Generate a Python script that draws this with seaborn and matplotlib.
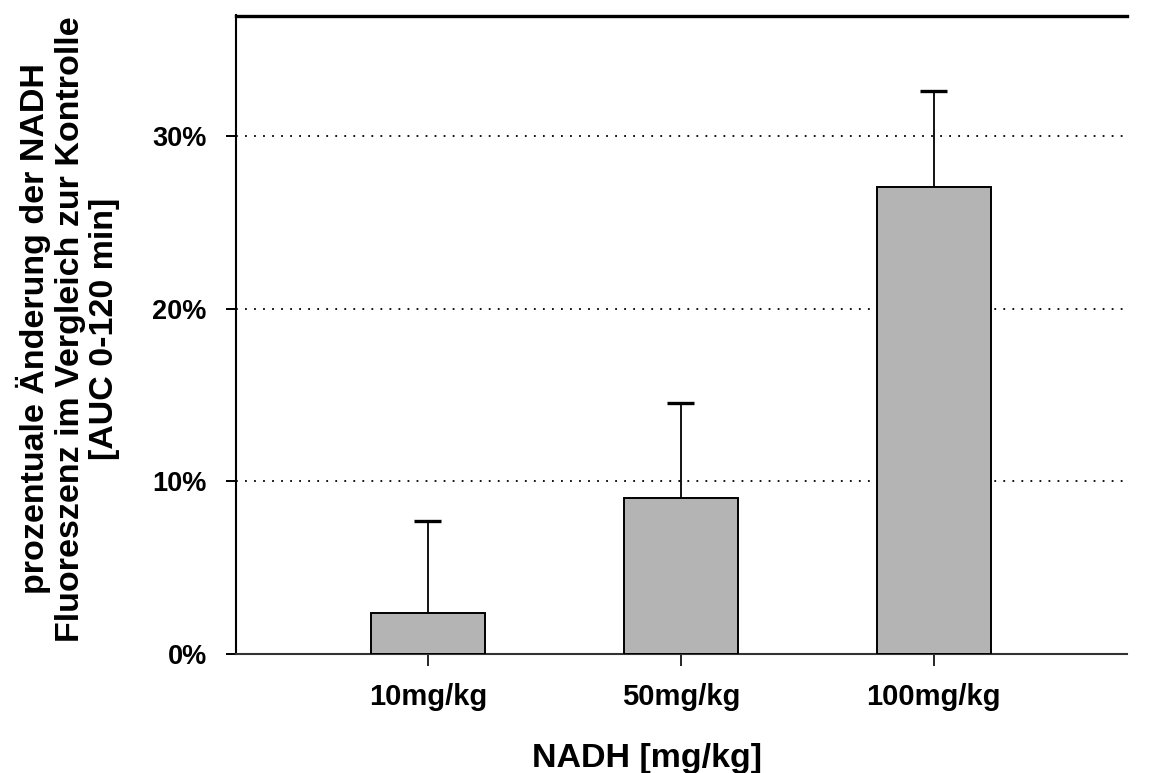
import numpy as np
import pandas as pd
import matplotlib
matplotlib.use("Agg")
import matplotlib.pyplot as plt
from matplotlib.ticker import PercentFormatter
import seaborn as sns

# Dose groups and mean change of NADH fluorescence (AUC 0-120 min), in percent
doses = ["10mg/kg", "50mg/kg", "100mg/kg"]
change_pct = [2.33, 9.0, 27.06]
err_upper = [5.37, 5.54, 5.59]
y_ticks = [0, 10, 20, 30]

sns.set_theme(style="white")
plt.rcParams["font.family"] = ["Liberation Sans", "DejaVu Sans"]
plt.rcParams.update({"text.color": "black", "axes.labelcolor": "black",
                     "xtick.color": "black", "ytick.color": "black"})

df = pd.DataFrame({"dose": doses, "change": change_pct})

fig = plt.figure(figsize=(11.52, 7.73), dpi=100)
ax = fig.add_axes([236 / 1152, 119.5 / 773, 891 / 1152, 638 / 773])

sns.barplot(data=df, x="dose", y="change", color="#b4b4b4", saturation=1,
            edgecolor="black", linewidth=1.4, width=0.45, errorbar=None,
            ax=ax, zorder=3)

# upper-only error bars
xs = np.arange(len(doses))
tops = np.array(change_pct) + np.array(err_upper)
ax.vlines(xs, change_pct, tops, color="black", linewidth=1.3, zorder=4)
ax.hlines(tops, xs - 0.053, xs + 0.053, color="black", linewidth=2.4, zorder=4)

ax.set_xlim(-0.758, 2.764)
ax.set_ylim(0, 37)
ax.set_yticks(y_ticks)
ax.yaxis.set_major_formatter(PercentFormatter(xmax=100, decimals=0))

ax.set_axisbelow(True)
ax.yaxis.grid(True, linestyle=(0, (1, 4)), color="black", linewidth=1.3)
ax.xaxis.grid(False)

for side in ["left", "bottom", "top", "right"]:
    ax.spines[side].set_color("black")
ax.spines["right"].set_visible(False)
ax.spines["top"].set_linewidth(2.4)
ax.spines["left"].set_linewidth(1.5)
ax.spines["bottom"].set_linewidth(1.5)
ax.spines["bottom"].set_color("#333333")

ax.tick_params(axis="y", direction="out", length=7, width=1.4, pad=14,
               labelsize=19.5, colors="black", left=True)
ax.tick_params(axis="x", direction="out", length=8.5, width=1.2, pad=13,
               labelsize=21, colors="black", bottom=True)
for lab in ax.get_xticklabels() + ax.get_yticklabels():
    lab.set_fontweight("bold")

ax.set_xlabel("")
ax.set_ylabel("")

fig.text(646.5 / 1152, 6 / 773, "NADH [mg/kg]", ha="center", va="baseline",
         fontsize=24.5, fontweight="bold", color="black")
fig.text(68 / 1152, (773 - 329) / 773,
         "prozentuale Änderung der NADH\nFluoreszenz im Vergleich zur Kontrolle\n[AUC 0-120 min]",
         rotation=90, ha="center", va="center", multialignment="center",
         fontsize=24.5, fontweight="bold", linespacing=1.13, color="black")

fig.savefig("out.png", dpi=100)
